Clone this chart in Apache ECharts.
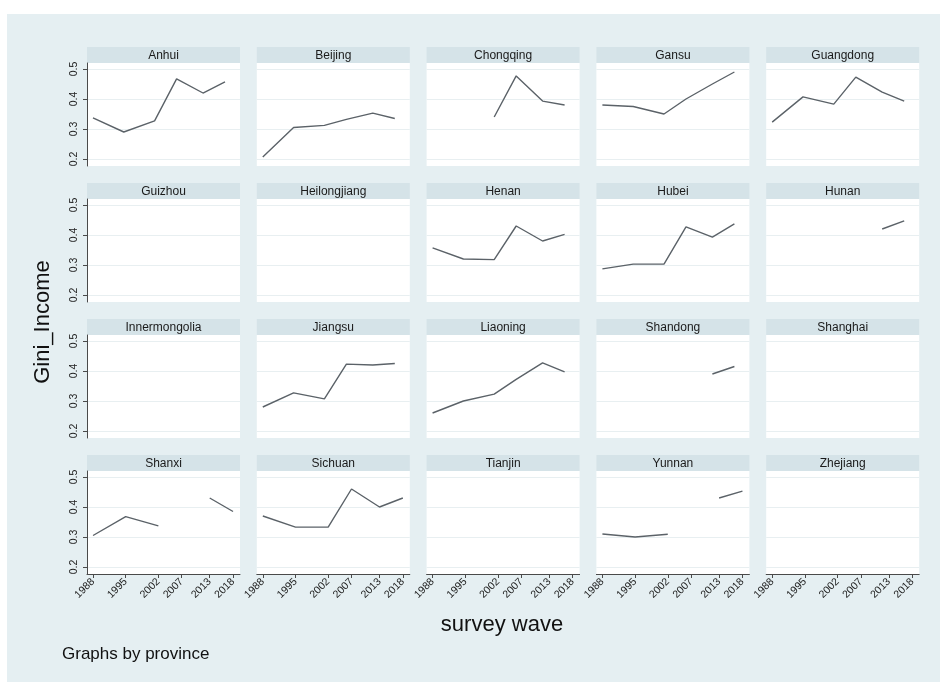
<!DOCTYPE html>
<html>
<head>
<meta charset="utf-8">
<script src="https://cdn.jsdelivr.net/npm/echarts@6/dist/echarts.min.js"></script>
<style>
  html, body { margin: 0; padding: 0; background: #fff; }
  #chart { width: 940px; height: 682px; }
</style>
</head>
<body>
<div id="chart"></div>
<script>
// survey waves and y ticks
const waves = [1988, 1995, 2002, 2007, 2013, 2018];
const yTicks = [0.2, 0.3, 0.4, 0.5];

const provinces = ['Anhui', 'Beijing', 'Chongqing', 'Gansu', 'Guangdong',
  'Guizhou', 'Heilongjiang', 'Henan', 'Hubei', 'Hunan',
  'Innermongolia', 'Jiangsu', 'Liaoning', 'Shandong', 'Shanghai',
  'Shanxi', 'Sichuan', 'Tianjin', 'Yunnan', 'Zhejiang'];

// Gini_Income per wave (null = no data)
const anhui        = [0.337, 0.290, 0.327, 0.467, 0.420, 0.457];
const beijing      = [0.207, 0.305, 0.312, 0.332, 0.353, 0.335];
const chongqing    = [null, null, 0.340, 0.477, 0.393, 0.380];
const gansu        = [0.380, 0.375, 0.350, 0.400, 0.450, 0.490];
const guangdong    = [0.323, 0.407, 0.383, 0.473, 0.423, 0.393];
const guizhou      = [null, null, null, null, null, null];
const heilongjiang = [null, null, null, null, null, null];
const henan        = [0.357, 0.320, 0.318, 0.430, 0.380, 0.402];
const hubei        = [0.287, 0.303, 0.303, 0.427, 0.393, 0.437];
const hunan        = [null, null, null, null, 0.420, 0.447];
const innermongolia = [null, null, null, null, null, null];
const jiangsu      = [0.280, 0.327, 0.307, 0.423, 0.420, 0.425];
const liaoning     = [0.260, 0.300, 0.323, 0.372, 0.427, 0.397];
const shandong     = [null, null, null, null, 0.390, 0.415];
const shanghai     = [null, null, null, null, null, null];
const shanxi       = [0.305, 0.368, 0.337, null, 0.430, 0.385];
const sichuan      = [0.370, 0.333, 0.333, 0.460, 0.400, 0.430];
const tianjin      = [null, null, null, null, null, null];
const yunnan       = [0.310, 0.300, 0.309, null, 0.430, 0.453];
const zhejiang     = [null, null, null, null, null, null];

const gini = [anhui, beijing, chongqing, gansu, guangdong,
  guizhou, heilongjiang, henan, hubei, hunan,
  innermongolia, jiangsu, liaoning, shandong, shanghai,
  shanxi, sichuan, tianjin, yunnan, zhejiang];

const chart = echarts.init(document.getElementById('chart'));

const font = "'Liberation Sans', Arial, Helvetica, sans-serif";
const left0 = 87, colStep = 169.8, panelW = 153;
const top0 = 47, rowStep = 136, stripH = 16, plotH = 103;
const axisColor = '#4a4a4a';

let grids = [], xAxes = [], yAxes = [], series = [];
let graphics = [
  { type: 'rect', z: -10, shape: { x: 7, y: 14, width: 933, height: 668 },
    style: { fill: '#e5eff2' } }
];

provinces.forEach((name, i) => {
  let r = Math.floor(i / 5), c = i % 5;
  let x = left0 + c * colStep;
  let stripTop = top0 + r * rowStep;
  let bottomRow = r === 3;
  let firstCol = c === 0;

  grids.push({
    left: x, top: stripTop + stripH, width: panelW, height: plotH,
    show: true, backgroundColor: '#ffffff', borderWidth: 0
  });
  xAxes.push({
    type: 'value', gridIndex: i,
    min: bottomRow ? 1986.71 : 1986.64,
    max: bottomRow ? 2019.49 : 2021.41,
    axisLine: { show: bottomRow, onZero: false, lineStyle: { color: axisColor, width: 1 } },
    axisTick: { show: bottomRow, customValues: waves, length: 4,
      lineStyle: { color: axisColor } },
    axisLabel: { show: bottomRow, customValues: waves, rotate: 45, margin: 6,
      fontSize: 10.5, color: '#222', fontFamily: font,
      formatter: v => String(v) },
    splitLine: { show: false }
  });
  yAxes.push({
    type: 'value', gridIndex: i, min: 0.1767, max: 0.52,
    axisLine: { show: firstCol, lineStyle: { color: axisColor, width: 1 } },
    axisTick: { show: firstCol, customValues: yTicks, length: 4,
      lineStyle: { color: axisColor } },
    axisLabel: { show: firstCol, customValues: yTicks, rotate: 90, margin: 7,
      fontSize: 10.5, color: '#222', fontFamily: font,
      formatter: v => v.toFixed(1) },
    splitLine: { show: true, lineStyle: { color: '#e8eff1', width: 1 } }
  });
  series.push({
    type: 'line', name: name, xAxisIndex: i, yAxisIndex: i,
    data: waves.map((w, k) => [w, gini[i][k]]),
    symbol: 'none', connectNulls: false, silent: true,
    lineStyle: { color: '#5b6268', width: 1.4 }
  });

  // panel header strip
  graphics.push({
    type: 'rect', shape: { x: x, y: stripTop, width: panelW, height: stripH },
    style: { fill: '#d5e3e8' }
  });
  graphics.push({
    type: 'text', x: x + panelW / 2, y: stripTop + stripH / 2 + 0.5,
    style: { text: name, fill: '#1a1a1a', font: '12px ' + font,
      textAlign: 'center', textVerticalAlign: 'middle' }
  });
});

graphics.push({
  type: 'text', x: 43, y: 322, rotation: Math.PI / 2,
  style: { text: 'Gini_Income', fill: '#111', font: '22px ' + font,
    textAlign: 'center', textVerticalAlign: 'middle' }
});
graphics.push({
  type: 'text', x: 502, y: 625,
  style: { text: 'survey wave', fill: '#111', font: '22px ' + font,
    textAlign: 'center', textVerticalAlign: 'middle' }
});
graphics.push({
  type: 'text', x: 62, y: 654,
  style: { text: 'Graphs by province', fill: '#111', font: '17px ' + font,
    textAlign: 'left', textVerticalAlign: 'middle' }
});

chart.setOption({
  backgroundColor: '#ffffff',
  animation: false,
  grid: grids,
  xAxis: xAxes,
  yAxis: yAxes,
  series: series,
  graphic: graphics
});
</script>
</body>
</html>
